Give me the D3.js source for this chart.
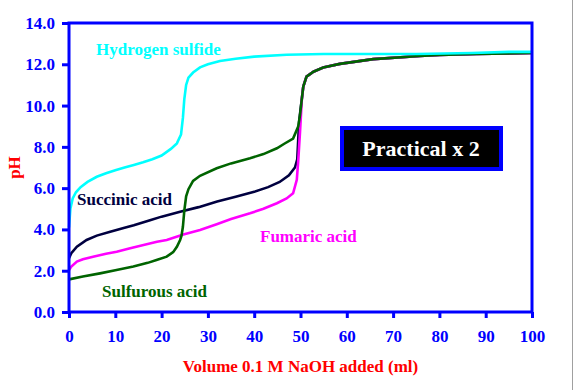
<!DOCTYPE html>
<html>
<head>
<meta charset="utf-8">
<script src="https://cdn.jsdelivr.net/npm/d3@7"></script>
<style>
  body { margin: 0; background: #fff; }
  svg { display: block; }
  text { font-family: "Liberation Serif", "Times New Roman", serif; font-weight: bold; }
</style>
</head>
<body>
<script>
// titration curves, volume of 0.1 M NaOH (ml) vs pH
var xTicks = [0, 10, 20, 30, 40, 50, 60, 70, 80, 90, 100];
var yTicks = [0, 2, 4, 6, 8, 10, 12, 14];

// shared tail after the second end point (excess NaOH)
var tailVol = [50.3, 50.6, 51.3, 52.8, 54.9, 58.5, 65.7, 75.8, 80, 88, 100];
var tailPH  = [10.35, 10.92, 11.4, 11.64, 11.84, 12.02, 12.25, 12.4, 12.45, 12.5, 12.55];

var h2sVol = [0, 0.3, 0.8, 1.5, 2.5, 4, 6, 8, 10, 12, 14, 16, 18, 20, 22, 23.3, 24.2, 24.6, 24.9, 25.3, 25.8, 26.8, 28.3, 30, 32.6, 36, 40, 47, 55, 75, 87, 95, 100];
var h2sPH  = [4.1, 5.0, 5.5, 5.8, 6.05, 6.3, 6.55, 6.72, 6.87, 7.0, 7.12, 7.25, 7.4, 7.58, 7.9, 8.17, 8.6, 9.4, 10.3, 11.0, 11.35, 11.6, 11.85, 12.0, 12.16, 12.27, 12.37, 12.46, 12.5, 12.5, 12.55, 12.6, 12.6];

var succVol = [0, 0.5, 1.7, 3.8, 6, 8.9, 12, 14, 17.5, 20, 24, 28, 32, 36, 40, 43, 45.5, 47.5, 48.8, 49.3, 49.5, 49.7, 50];
var succPH  = [2.6, 2.85, 3.16, 3.49, 3.7, 3.89, 4.08, 4.2, 4.45, 4.62, 4.86, 5.08, 5.35, 5.58, 5.82, 6.05, 6.3, 6.62, 7.0, 7.4, 8.3, 9.2, 9.8];

var fumVol = [0, 0.5, 1.7, 3, 5.2, 8, 10.3, 13, 16.1, 19, 21.1, 24.7, 28.3, 31.9, 35, 39.1, 42, 44.9, 47, 48.4, 49.2, 49.5, 49.9];
var fumPH  = [2.03, 2.2, 2.44, 2.55, 2.68, 2.82, 2.92, 3.08, 3.25, 3.4, 3.49, 3.75, 3.97, 4.25, 4.5, 4.78, 5.0, 5.27, 5.5, 5.75, 6.4, 7.28, 8.74];

var sulfVol = [0, 3, 6.7, 10, 13.9, 17, 18.9, 21.1, 22.5, 23.3, 24, 24.3, 24.6, 24.9, 25.3, 25.8, 26.8, 28.3, 31.9, 35, 39.1, 42, 44.9, 46.5, 48.4, 49.5, 49.9];
var sulfPH  = [1.58, 1.72, 1.87, 2.02, 2.2, 2.38, 2.52, 2.68, 2.9, 3.16, 3.49, 3.7, 4.13, 4.9, 5.6, 5.95, 6.35, 6.6, 6.96, 7.2, 7.45, 7.65, 7.93, 8.15, 8.4, 8.98, 9.54];

var width = 574, height = 390;
var margin = { left: 69, right: 532, top: 23, bottom: 312 };

var svg = d3.select("body").append("svg")
    .attr("width", width)
    .attr("height", height);

var x = d3.scaleLinear().domain([0, 100]).range([margin.left, margin.right]);
var y = d3.scaleLinear().domain([0, 14]).range([margin.bottom, margin.top]);

function zip(v, p) { return v.map(function (d, i) { return [d, p[i]]; }); }

var series = [
    { name: "Succinic acid", color: "#000040", pts: zip(succVol.concat(tailVol), succPH.concat(tailPH)), lx: 77, ly: 205 },
    { name: "Fumaric acid", color: "#ff00ff", pts: zip(fumVol.concat(tailVol), fumPH.concat(tailPH)), lx: 260, ly: 242 },
    { name: "Sulfurous acid", color: "#006400", pts: zip(sulfVol.concat(tailVol), sulfPH.concat(tailPH)), lx: 102, ly: 297 },
    { name: "Hydrogen sulfide", color: "#00ffff", pts: zip(h2sVol, h2sPH), lx: 96, ly: 55 }
];

// right-hand grey edge
svg.append("line")
    .attr("x1", 572.5).attr("x2", 572.5)
    .attr("y1", 0).attr("y2", height)
    .attr("stroke", "#a0a0a0").attr("stroke-width", 1);

var line = d3.line()
    .x(function (d) { return x(d[0]); })
    .y(function (d) { return y(d[1]); });

svg.selectAll(".curve")
    .data(series)
    .enter().append("path")
    .attr("class", "curve")
    .attr("d", function (d) { return line(d.pts); })
    .attr("fill", "none")
    .attr("stroke", function (d) { return d.color; })
    .attr("stroke-width", 2.6);

// plot frame
svg.append("rect")
    .attr("x", margin.left).attr("y", margin.top)
    .attr("width", margin.right - margin.left).attr("height", margin.bottom - margin.top)
    .attr("fill", "none")
    .attr("stroke", "#0000ff")
    .attr("stroke-width", 3);

// y axis
var yAxis = svg.append("g")
    .attr("transform", "translate(" + margin.left + ",0)")
    .call(d3.axisLeft(y).tickValues(yTicks).tickFormat(d3.format(".1f")).tickSize(7).tickPadding(7));

// x axis
var xAxis = svg.append("g")
    .attr("transform", "translate(0," + margin.bottom + ")")
    .call(d3.axisBottom(x).tickValues(xTicks).tickSize(6).tickPadding(12));

[xAxis, yAxis].forEach(function (a) {
    a.select(".domain").remove();
    a.selectAll(".tick line").attr("stroke", "#0000ff").attr("stroke-width", 3);
    a.selectAll(".tick text")
        .attr("fill", "#0000ff")
        .style("font-size", "17px")
        .style("font-family", "'Liberation Serif', serif")
        .style("font-weight", "bold");
});

// axis titles
svg.append("text")
    .attr("x", (margin.left + margin.right) / 2)
    .attr("y", 372)
    .attr("text-anchor", "middle")
    .attr("fill", "#ff0000")
    .style("font-size", "17px")
    .text("Volume 0.1 M NaOH added (ml)");

svg.append("text")
    .attr("transform", "translate(20," + (margin.top + margin.bottom) / 2 + ") rotate(-90)")
    .attr("text-anchor", "middle")
    .attr("fill", "#ff0000")
    .style("font-size", "17px")
    .text("pH");

// curve labels
svg.selectAll(".lbl")
    .data(series)
    .enter().append("text")
    .attr("class", "lbl")
    .attr("x", function (d) { return d.lx; })
    .attr("y", function (d) { return d.ly; })
    .attr("fill", function (d) { return d.color; })
    .style("font-size", "17px")
    .text(function (d) { return d.name; });

// boxed caption
svg.append("rect")
    .attr("x", 342).attr("y", 128)
    .attr("width", 159).attr("height", 41)
    .attr("fill", "#000")
    .attr("stroke", "#0000ff")
    .attr("stroke-width", 4);

svg.append("text")
    .attr("x", 421)
    .attr("y", 156)
    .attr("text-anchor", "middle")
    .attr("fill", "#fff")
    .style("font-size", "22px")
    .text("Practical x 2");
</script>
</body>
</html>
